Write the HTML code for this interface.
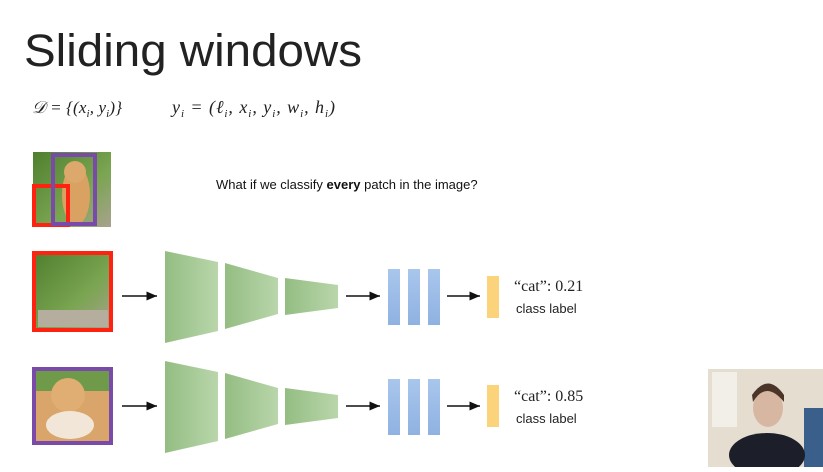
<!DOCTYPE html>
<html><head><meta charset="utf-8"><style>
body{margin:0;background:#fff;width:823px;height:467px;overflow:hidden;font-family:"Liberation Sans",sans-serif}
</style></head><body>
<svg width="823" height="467" xmlns="http://www.w3.org/2000/svg">
<defs>
<linearGradient id="g" x1="0" x2="1"><stop offset="0" stop-color="#94bd82"/><stop offset="1" stop-color="#b9d6ab"/></linearGradient>
<linearGradient id="b" x1="0" x2="0" y1="0" y2="1"><stop offset="0" stop-color="#a9c6ec"/><stop offset="1" stop-color="#8fb2e2"/></linearGradient>
<linearGradient id="grass" x1="0" x2="1" y1="0" y2="1"><stop offset="0" stop-color="#4f7f2e"/><stop offset="0.6" stop-color="#7aa551"/><stop offset="1" stop-color="#a9a28e"/></linearGradient>
<marker id="a" markerWidth="8" markerHeight="8" refX="7" refY="3" orient="auto"><path d="M0,0 L7,3 L0,6z" fill="#111"/></marker>
</defs>
<text x="24" y="66" font-size="45" fill="#222" textLength="338" lengthAdjust="spacingAndGlyphs">Sliding windows</text>
<text x="32" y="113" font-size="17" font-family="Liberation Serif" font-style="italic" fill="#222" textLength="90" lengthAdjust="spacing">𝒟 = {(x<tspan font-size="11" dy="4">i</tspan><tspan dy="-4">, y</tspan><tspan font-size="11" dy="4">i</tspan><tspan dy="-4">)}</tspan></text>
<text x="172" y="113" font-size="18" font-family="Liberation Serif" font-style="italic" fill="#222" textLength="163" lengthAdjust="spacing">y<tspan font-size="11" dy="4">i</tspan><tspan dy="-4"> = (ℓ</tspan><tspan font-size="11" dy="4">i</tspan><tspan dy="-4">, x</tspan><tspan font-size="11" dy="4">i</tspan><tspan dy="-4">, y</tspan><tspan font-size="11" dy="4">i</tspan><tspan dy="-4">, w</tspan><tspan font-size="11" dy="4">i</tspan><tspan dy="-4">, h</tspan><tspan font-size="11" dy="4">i</tspan><tspan dy="-4">)</tspan></text>
<rect x="33" y="152" width="78" height="75" fill="url(#grass)"/>
<ellipse cx="76" cy="195" rx="14" ry="30" fill="#d9a162"/>
<circle cx="75" cy="172" r="11" fill="#dca86c"/>
<rect x="34" y="186" width="34" height="39" fill="none" stroke="#f21" stroke-width="4"/>
<rect x="53" y="155" width="42" height="69" fill="none" stroke="#7a4aa8" stroke-width="4"/>
<text x="216" y="189" font-size="13" fill="#111">What if we classify <tspan font-weight="bold">every</tspan> patch in the image?</text>
<rect x="34" y="253" width="77" height="77" fill="url(#grass)" stroke="#f21" stroke-width="4"/>
<rect x="38" y="310" width="70" height="17" fill="#b5ad9e"/>
<line x1="122" y1="296" x2="157" y2="296" stroke="#111" stroke-width="1.5" marker-end="url(#a)"/>
<polygon points="165,251 218,262 218,331 165,343" fill="url(#g)"/>
<polygon points="225,263 278,278 278,314 225,329" fill="url(#g)"/>
<polygon points="285,278 338,285 338,308 285,315" fill="url(#g)"/>
<line x1="346" y1="296" x2="380" y2="296" stroke="#111" stroke-width="1.5" marker-end="url(#a)"/>
<rect x="388" y="269" width="12" height="56" fill="url(#b)"/>
<rect x="408" y="269" width="12" height="56" fill="url(#b)"/>
<rect x="428" y="269" width="12" height="56" fill="url(#b)"/>
<line x1="447" y1="296" x2="480" y2="296" stroke="#111" stroke-width="1.5" marker-end="url(#a)"/>
<rect x="487" y="276" width="12" height="42" fill="#fbd37a"/>
<text x="514" y="291" font-size="16" font-family="Liberation Serif" fill="#222">“cat”:  0.21</text>
<text x="516" y="313" font-size="13" fill="#222">class label</text>
<rect x="34" y="369" width="77" height="74" fill="#d9a56a" stroke="#7a4aa8" stroke-width="4"/>
<rect x="36" y="371" width="73" height="20" fill="#6f9a4a"/>
<circle cx="68" cy="395" r="17" fill="#e0ad72"/>
<ellipse cx="70" cy="425" rx="24" ry="14" fill="#f1e6d8"/>
<line x1="122" y1="406" x2="157" y2="406" stroke="#111" stroke-width="1.5" marker-end="url(#a)"/>
<polygon points="165,361 218,372 218,441 165,453" fill="url(#g)"/>
<polygon points="225,373 278,388 278,424 225,439" fill="url(#g)"/>
<polygon points="285,388 338,395 338,418 285,425" fill="url(#g)"/>
<line x1="346" y1="406" x2="380" y2="406" stroke="#111" stroke-width="1.5" marker-end="url(#a)"/>
<rect x="388" y="379" width="12" height="56" fill="url(#b)"/>
<rect x="408" y="379" width="12" height="56" fill="url(#b)"/>
<rect x="428" y="379" width="12" height="56" fill="url(#b)"/>
<line x1="447" y1="406" x2="480" y2="406" stroke="#111" stroke-width="1.5" marker-end="url(#a)"/>
<rect x="487" y="385" width="12" height="42" fill="#fbd37a"/>
<text x="514" y="401" font-size="16" font-family="Liberation Serif" fill="#222">“cat”:  0.85</text>
<text x="516" y="423" font-size="13" fill="#222">class label</text>
<rect x="708" y="369" width="115" height="98" fill="#e4ddd0"/>
<rect x="712" y="372" width="25" height="55" fill="#f2efe8"/>
<rect x="804" y="408" width="19" height="59" fill="#3a5f8a"/>
<ellipse cx="767" cy="455" rx="38" ry="22" fill="#1c1f2a"/>
<ellipse cx="768" cy="408" rx="15" ry="19" fill="#d8b7a2"/>
<path d="M753,402 Q766,380 784,402 L784,395 Q768,372 752,395z" fill="#4a3528"/>
</svg>
</body></html>
